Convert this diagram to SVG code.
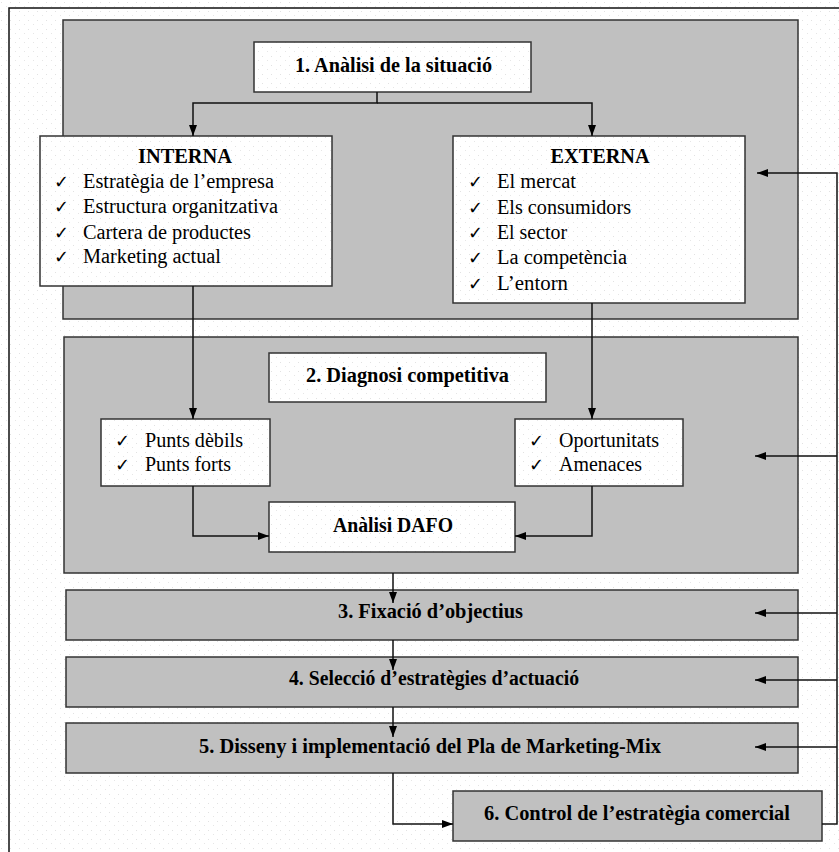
<svg xmlns="http://www.w3.org/2000/svg" width="839" height="852" viewBox="0 0 839 852">
<defs>
<pattern id="dots" width="9" height="9" patternUnits="userSpaceOnUse">
<rect width="9" height="9" fill="#ffffff"/>
<rect x="1" y="2" width="1" height="1" fill="#e2e2e2"/>
<rect x="6" y="6" width="1" height="1" fill="#e6e6e6"/>
</pattern>
<marker id="arr" markerWidth="11" markerHeight="8" refX="11" refY="4" orient="auto" markerUnits="userSpaceOnUse">
<path d="M0,0 L11,4 L0,8 Z" fill="#000"/>
</marker>
<style>
.panel{fill:#c0c0c0;stroke:#333;stroke-width:1.5}
.box{fill:url(#dots);stroke:#333;stroke-width:1.5}
.bar{fill:#c0c0c0;stroke:#333;stroke-width:1.5}
.t{font-family:"Liberation Serif","Times New Roman",serif;font-size:20px;fill:#000}
.b{font-weight:bold}
.c{text-anchor:middle}
.ck{font-family:"DejaVu Sans",sans-serif;font-size:18px;fill:#000}
.ln{fill:none;stroke:#111;stroke-width:1.5}
</style>
</defs>
<rect width="839" height="852" fill="url(#dots)"/>
<path d="M9,852 V8 H839" fill="none" stroke="#111" stroke-width="1.5"/>

<g id="panel1"><rect class="panel" x="63" y="20" width="735" height="299"/></g>
<g id="panel2"><rect class="panel" x="64" y="337" width="734" height="236"/></g>

<g id="n1">
<rect class="box" x="254" y="42" width="277" height="50"/>
<text class="t b c" x="393.5" y="72" textLength="197" lengthAdjust="spacingAndGlyphs">1. Anàlisi de la situació</text>
</g>

<g id="interna">
<rect class="box" x="40" y="136" width="292" height="150"/>
<text class="t b c" x="185" y="163" textLength="94" lengthAdjust="spacingAndGlyphs">INTERNA</text>
<text class="ck" x="54" y="188">✓</text><text class="t" x="83" y="188" textLength="191" lengthAdjust="spacingAndGlyphs">Estratègia de l’empresa</text>
<text class="ck" x="54" y="213">✓</text><text class="t" x="83" y="213" textLength="195" lengthAdjust="spacingAndGlyphs">Estructura organitzativa</text>
<text class="ck" x="54" y="238.5">✓</text><text class="t" x="83" y="238.5" textLength="168" lengthAdjust="spacingAndGlyphs">Cartera de productes</text>
<text class="ck" x="54" y="263">✓</text><text class="t" x="83" y="263" textLength="138" lengthAdjust="spacingAndGlyphs">Marketing actual</text>
</g>

<g id="externa">
<rect class="box" x="453" y="136" width="292" height="167"/>
<text class="t b c" x="600" y="163" textLength="99" lengthAdjust="spacingAndGlyphs">EXTERNA</text>
<text class="ck" x="468" y="188">✓</text><text class="t" x="497" y="188" textLength="79" lengthAdjust="spacingAndGlyphs">El mercat</text>
<text class="ck" x="468" y="213.5">✓</text><text class="t" x="497" y="213.5" textLength="134" lengthAdjust="spacingAndGlyphs">Els consumidors</text>
<text class="ck" x="468" y="239">✓</text><text class="t" x="497" y="239" textLength="70" lengthAdjust="spacingAndGlyphs">El sector</text>
<text class="ck" x="468" y="264">✓</text><text class="t" x="497" y="264" textLength="130" lengthAdjust="spacingAndGlyphs">La competència</text>
<text class="ck" x="468" y="289.5">✓</text><text class="t" x="497" y="289.5" textLength="71" lengthAdjust="spacingAndGlyphs">L’entorn</text>
</g>

<g id="n2">
<rect class="box" x="269" y="353" width="277" height="49"/>
<text class="t b c" x="407.5" y="382" textLength="203" lengthAdjust="spacingAndGlyphs">2. Diagnosi competitiva</text>
</g>

<g id="punts">
<rect class="box" x="101" y="419" width="169" height="67"/>
<text class="ck" x="115" y="447">✓</text><text class="t" x="145" y="447" textLength="98" lengthAdjust="spacingAndGlyphs">Punts dèbils</text>
<text class="ck" x="115" y="471">✓</text><text class="t" x="145" y="471" textLength="86" lengthAdjust="spacingAndGlyphs">Punts forts</text>
</g>

<g id="oportunitats">
<rect class="box" x="515" y="419" width="168" height="67"/>
<text class="ck" x="529" y="447">✓</text><text class="t" x="559" y="447" textLength="100" lengthAdjust="spacingAndGlyphs">Oportunitats</text>
<text class="ck" x="529" y="471">✓</text><text class="t" x="559" y="471" textLength="83" lengthAdjust="spacingAndGlyphs">Amenaces</text>
</g>

<g id="dafo">
<rect class="box" x="269" y="502" width="246" height="50"/>
<text class="t b c" x="393" y="532" textLength="120" lengthAdjust="spacingAndGlyphs">Anàlisi DAFO</text>
</g>

<g id="n3">
<rect class="bar" x="66" y="590" width="732" height="50"/>
<text class="t b c" x="430.5" y="618" textLength="185" lengthAdjust="spacingAndGlyphs">3. Fixació d’objectius</text>
</g>

<g id="n4">
<rect class="bar" x="66" y="657" width="732" height="50"/>
<text class="t b c" x="434" y="685" textLength="290" lengthAdjust="spacingAndGlyphs">4. Selecció d’estratègies d’actuació</text>
</g>

<g id="n5">
<rect class="bar" x="66" y="723" width="732" height="50"/>
<text class="t b c" x="430" y="753" textLength="462" lengthAdjust="spacingAndGlyphs">5. Disseny i implementació del Pla de Marketing-Mix</text>
</g>

<g id="n6">
<rect class="bar" x="453" y="791" width="369" height="50"/>
<text class="t b c" x="637" y="820" textLength="306" lengthAdjust="spacingAndGlyphs">6. Control de l’estratègia comercial</text>
</g>

<g id="connectors">
<path class="ln" d="M377,92 V103 H193 V136" marker-end="url(#arr)"/>
<path class="ln" d="M377,103 H592 V136" marker-end="url(#arr)"/>
<path class="ln" d="M193,286 V419" marker-end="url(#arr)"/>
<path class="ln" d="M592,303 V419" marker-end="url(#arr)"/>
<path class="ln" d="M193,486 V536 H269" marker-end="url(#arr)"/>
<path class="ln" d="M592,486 V536 H515" marker-end="url(#arr)"/>
<path class="ln" d="M393,573 V603" marker-end="url(#arr)"/>
<path class="ln" d="M393,640 V670" marker-end="url(#arr)"/>
<path class="ln" d="M393,707 V737" marker-end="url(#arr)"/>
<path class="ln" d="M393,773 V824 H453" marker-end="url(#arr)"/>
<path class="ln" d="M822,824 H837 V173 H757" marker-end="url(#arr)"/>
<path class="ln" d="M837,456 H755" marker-end="url(#arr)"/>
<path class="ln" d="M837,613 H755" marker-end="url(#arr)"/>
<path class="ln" d="M837,680 H755" marker-end="url(#arr)"/>
<path class="ln" d="M837,747 H755" marker-end="url(#arr)"/>
</g>
</svg>
